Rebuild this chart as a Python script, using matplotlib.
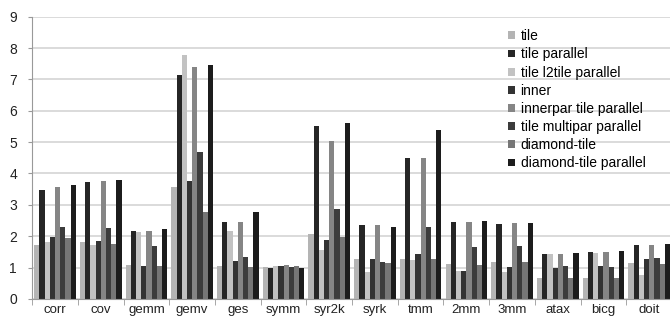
import numpy as np
import matplotlib
matplotlib.use('Agg')
import matplotlib.pyplot as plt

plt.rcParams['font.family'] = ['Liberation Sans', 'DejaVu Sans']

# benchmarks
benchmarks = ['corr', 'cov', 'gemm', 'gemv', 'ges', 'symm', 'syr2k', 'syrk',
              'tmm', '2mm', '3mm', 'atax', 'bicg', 'doit']

series_names = ['tile', 'tile parallel', 'tile l2tile parallel', 'inner',
                'innerpar tile parallel', 'tile multipar parallel',
                'diamond-tile', 'diamond-tile parallel']

tile = [1.72, 1.80, 1.07, 3.56, 1.05, 1.02, 2.06, 1.26, 1.28, 1.10, 1.17, 0.65, 0.67, 1.15]
tile_par = [3.46, 3.73, 2.18, 7.13, 2.44, 1.00, 5.52, 2.37, 4.48, 2.45, 2.39, 1.42, 1.48, 1.73]
l2tile_par = [1.80, 1.72, 2.13, 7.79, 2.17, 1.06, 1.57, 0.87, 1.23, 0.90, 0.86, 1.44, 1.45, 0.75]
inner = [1.96, 1.83, 1.04, 3.76, 1.21, 1.05, 1.87, 1.27, 1.43, 0.90, 1.01, 0.98, 1.04, 1.28]
innerpar_par = [3.58, 3.75, 2.17, 7.39, 2.46, 1.07, 5.03, 2.34, 4.50, 2.45, 2.41, 1.42, 1.48, 1.73]
multipar_par = [2.30, 2.27, 1.70, 4.67, 1.35, 1.02, 2.86, 1.18, 2.30, 1.66, 1.68, 1.06, 1.02, 1.31]
diamond = [1.95, 1.75, 1.04, 2.76, 1.03, 1.06, 1.97, 1.16, 1.28, 1.08, 1.17, 0.65, 0.67, 1.10]
diamond_par = [3.64, 3.79, 2.24, 7.45, 2.76, 0.99, 5.61, 2.29, 5.40, 2.49, 2.43, 1.45, 1.53, 1.75]

all_series = [tile, tile_par, l2tile_par, inner, innerpar_par, multipar_par, diamond, diamond_par]
colors = ['#b4b4b4', '#262626', '#c2c2c2', '#333333', '#858585', '#3c3c3c', '#767676', '#1c1c1c']

fig = plt.figure(figsize=(6.7, 3.2), dpi=100)
ax = fig.add_axes([0.048, 0.066, 0.955, 0.882])

x = np.arange(len(benchmarks))
n = len(all_series)
w = 0.91 / n
for i, (vals, c, name) in enumerate(zip(all_series, colors, series_names)):
    ax.bar(x - 0.455 + w * (i + 0.5), vals, width=w, color=c, label=name, zorder=2)

ax.set_xlim(-0.5, len(benchmarks) - 0.5)
ax.set_ylim(0, 9)
ax.set_yticks(range(10))
ax.yaxis.grid(True, color='#d4d4d4', linewidth=1.2, zorder=0)
ax.set_axisbelow(True)

ax.set_xticks(x)
ax.set_xticklabels(benchmarks, fontsize=9.5, color='#222222')
ax.set_xticks(np.arange(len(benchmarks) + 1) - 0.5, minor=True)
ax.tick_params(axis='x', which='major', length=0, pad=4)
ax.tick_params(axis='x', which='minor', length=4, color='#999999')
ax.tick_params(axis='y', length=3, color='#999999', labelsize=10, labelcolor='#222222', pad=8)

for s in ['top', 'right']:
    ax.spines[s].set_visible(False)
ax.spines['left'].set_color('#999999')
ax.spines['bottom'].set_color('#999999')

ax.legend(loc='upper left', bbox_to_anchor=(0.735, 0.975), frameon=False, fontsize=10,
          handlelength=0.5, handleheight=0.5, handletextpad=0.4, labelspacing=0.3,
          borderaxespad=0)

fig.savefig('out.png', dpi=100)
